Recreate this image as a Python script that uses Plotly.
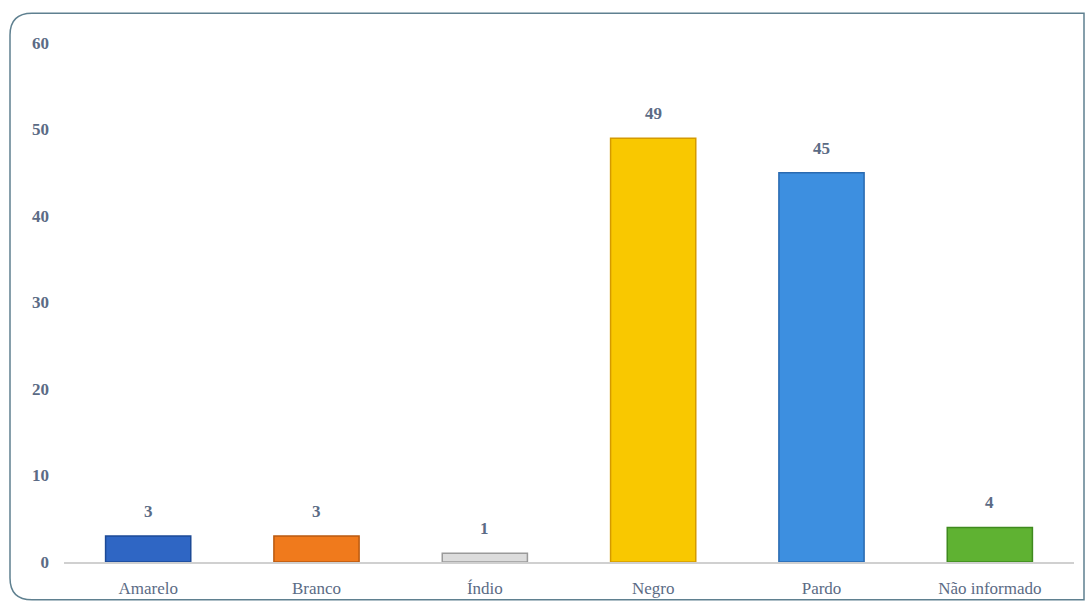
import plotly.graph_objects as go

# Distribuição por cor/raça
categorias = ["Amarelo", "Branco", "Índio", "Negro", "Pardo", "Não informado"]
valores = [3, 3, 1, 49, 45, 4]
cores = ["#2f66c4", "#f07a1c", "#dcdcdc", "#f9c800", "#3d8fe0", "#5fb232"]
bordas = ["#1d4a96", "#b95a10", "#9a9a9a", "#d49a00", "#2a6ab0", "#3f8a1e"]
ticks_y = [0, 10, 20, 30, 40, 50, 60]

W, H = 1089, 610
ML, MR, MT, MB = 64, 15, 43, 44
COR_TEXTO = "#5b6b85"

fig = go.Figure(
    go.Bar(
        x=categorias,
        y=valores,
        width=0.506,
        marker=dict(color=cores, line=dict(color=bordas, width=1.5)),
        cliponaxis=False,
    )
)

# Rótulos de valor acima das barras
for cat, v in zip(categorias, valores):
    fig.add_annotation(
        x=cat, y=v, text=str(v), showarrow=False,
        yanchor="bottom", yshift=13,
        font=dict(family="Liberation Serif", size=17, color=COR_TEXTO, weight="bold"),
    )

# Moldura arredondada em coordenadas de papel
pw, ph = W - ML - MR, H - MT - MB
def px(x):
    return (x - ML) / pw
def py(y):
    return (H - MB - y) / ph

x0, x1, y0, y1, r = 10, 1084, 13, 604, 22
path = (
    f"M {px(x0 + r)},{py(y0)} L {px(x1)},{py(y0)} "
    f"L {px(x1)},{py(y1)} L {px(x0 + r)},{py(y1)} "
    f"Q {px(x0)},{py(y1)} {px(x0)},{py(y1 - r)} "
    f"L {px(x0)},{py(y0 + r)} Q {px(x0)},{py(y0)} {px(x0 + r)},{py(y0)} Z"
)
fig.add_shape(type="path", path=path, xref="paper", yref="paper",
              line=dict(color="#5f8090", width=1.5), layer="below")

fig.update_layout(
    width=W,
    height=H,
    margin=dict(l=ML, r=MR, t=MT, b=MB),
    paper_bgcolor="white",
    plot_bgcolor="white",
    showlegend=False,
    xaxis=dict(
        showline=True,
        linecolor="#d0d0d0",
        linewidth=2,
        ticks="",
        ticklabelstandoff=10,
        tickfont=dict(family="Liberation Serif", size=17, color=COR_TEXTO),
        showgrid=False,
    ),
    yaxis=dict(
        range=[0, 60],
        tickvals=ticks_y,
        showgrid=False,
        zeroline=False,
        showline=False,
        ticks="",
        ticklabelstandoff=14,
        tickfont=dict(family="Liberation Serif", size=17, color=COR_TEXTO, weight="bold"),
    ),
)

fig.write_html("out.html")
